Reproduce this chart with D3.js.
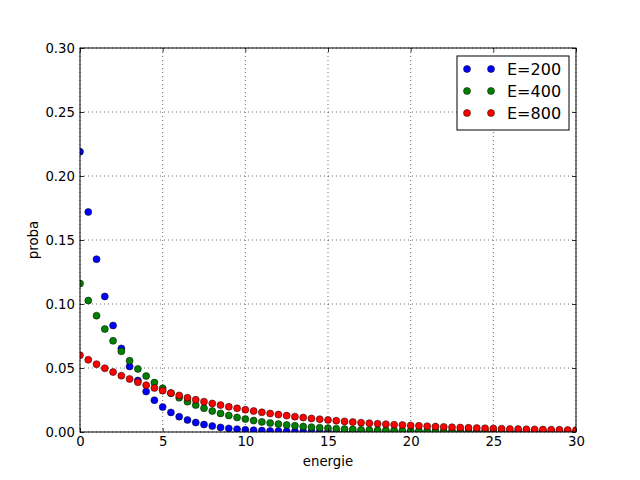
<!DOCTYPE html>
<html><head><meta charset="utf-8">
<script src="https://cdn.jsdelivr.net/npm/d3@7"></script>
<style>body{margin:0;background:#fff}svg{display:block}text{font-family:"DejaVu Sans",sans-serif}</style>
</head><body><svg id="c" width="640" height="480"></svg>
<script>
const energies = d3.range(0, 30.001, 0.5);
const probaE200 = [0.2190,0.1719,0.1350,0.1059,0.0832,0.0653,0.0512,0.0402,0.0316,0.0248,0.0195,0.0153,0.0120,0.0094,0.0074,0.0058,0.0046,0.0036,0.0028,0.0022,0.0017,0.0014,0.0011,0.0008,0.0007,0.0005,0.0004,0.0003,0.0003,0.0002,0.0002,0.0001,0.0001,0.0001,0.0001,0.0001,0.0001,0.0000,0.0000,0.0000,0.0000,0.0000,0.0000,0.0000,0.0000,0.0000,0.0000,0.0000,0.0000,0.0000,0.0000,0.0000,0.0000,0.0000,0.0000,0.0000,0.0000,0.0000,0.0000,0.0000,0.0000];
const probaE400 = [0.1160,0.1027,0.0909,0.0804,0.0712,0.0630,0.0557,0.0493,0.0437,0.0386,0.0342,0.0303,0.0268,0.0237,0.0210,0.0186,0.0164,0.0145,0.0129,0.0114,0.0101,0.0089,0.0079,0.0070,0.0062,0.0055,0.0049,0.0043,0.0038,0.0034,0.0030,0.0026,0.0023,0.0021,0.0018,0.0016,0.0014,0.0013,0.0011,0.0010,0.0009,0.0008,0.0007,0.0006,0.0005,0.0005,0.0004,0.0004,0.0003,0.0003,0.0003,0.0002,0.0002,0.0002,0.0002,0.0001,0.0001,0.0001,0.0001,0.0001,0.0001];
const probaE800 = [0.0600,0.0564,0.0530,0.0498,0.0468,0.0440,0.0414,0.0389,0.0366,0.0344,0.0323,0.0304,0.0286,0.0268,0.0252,0.0237,0.0223,0.0210,0.0197,0.0185,0.0174,0.0164,0.0154,0.0145,0.0136,0.0128,0.0120,0.0113,0.0106,0.0100,0.0094,0.0088,0.0083,0.0078,0.0073,0.0069,0.0065,0.0061,0.0057,0.0054,0.0051,0.0048,0.0045,0.0042,0.0040,0.0037,0.0035,0.0033,0.0031,0.0029,0.0027,0.0026,0.0024,0.0023,0.0021,0.0020,0.0019,0.0018,0.0017,0.0016,0.0015];
const seriesNames = ["E=200","E=400","E=800"];
const seriesColors = ["#0000ff","#008000","#ff0000"];
const xTicks = [0,5,10,15,20,25,30];
const yTicks = [0,0.05,0.10,0.15,0.20,0.25,0.30];

const svg = d3.select("#c");
const L=80,R=576,T=48,B=432;
const x = d3.scaleLinear().domain([0,30]).range([L,R]);
const y = d3.scaleLinear().domain([0,0.30]).range([B,T]);

// grid
const g = svg.append("g");
g.selectAll("line.gx").data(xTicks).join("line").attr("x1",d=>x(d)).attr("x2",d=>x(d)).attr("y1",T).attr("y2",B)
 .attr("stroke","#000").attr("stroke-width",0.6).attr("stroke-dasharray","1,3");
g.selectAll("line.gy").data(yTicks).join("line").attr("y1",d=>y(d)).attr("y2",d=>y(d)).attr("x1",L).attr("x2",R)
 .attr("stroke","#000").attr("stroke-width",0.6).attr("stroke-dasharray","1,3");

svg.append("clipPath").attr("id","clip").append("rect").attr("x",L).attr("y",T).attr("width",R-L).attr("height",B-T);

const all=[probaE200,probaE400,probaE800];
const pts = svg.append("g").attr("clip-path","url(#clip)");
all.forEach((arr,i)=>{
  pts.append("g").selectAll("circle").data(arr).join("circle")
   .attr("cx",(d,j)=>x(energies[j])).attr("cy",d=>y(d)).attr("r",3.5)
   .attr("fill",seriesColors[i]).attr("stroke","#000").attr("stroke-width",0.5);
});

const ax = svg.append("g");
const axB = d3.axisBottom(x).tickValues(xTicks).tickFormat(d3.format("d")).tickSizeInner(-4).tickSizeOuter(0).tickPadding(5);
const axT = d3.axisTop(x).tickValues(xTicks).tickFormat("").tickSizeInner(-4).tickSizeOuter(0);
const axL = d3.axisLeft(y).tickValues(yTicks).tickFormat(d3.format(".2f")).tickSizeInner(-4).tickSizeOuter(0).tickPadding(5);
const axR = d3.axisRight(y).tickValues(yTicks).tickFormat("").tickSizeInner(-4).tickSizeOuter(0);
[ [axB,`translate(0,${B})`],[axT,`translate(0,${T})`],[axL,`translate(${L},0)`],[axR,`translate(${R},0)`] ].forEach(([a,t])=>{
  const gg=ax.append("g").attr("transform",t).call(a);
  gg.select(".domain").remove();
  gg.selectAll("line").attr("stroke","#000").attr("stroke-width",0.8);
  gg.selectAll("text").attr("font-size",13.3).attr("fill","#000").attr("font-family","DejaVu Sans");
});
svg.append("rect").attr("x",L).attr("y",T).attr("width",R-L).attr("height",B-T).attr("fill","none").attr("stroke","#000").attr("stroke-width",1);

svg.append("text").attr("x",(L+R)/2).attr("y",466).attr("text-anchor","middle").attr("font-size",13.3).text("energie");
svg.append("text").attr("transform",`translate(38,${(T+B)/2}) rotate(-90)`).attr("text-anchor","middle").attr("font-size",13.3).text("proba");

const lg = svg.append("g");
lg.append("rect").attr("x",457).attr("y",56).attr("width",112).attr("height",74).attr("fill","#fff").attr("stroke","#000").attr("stroke-width",1);
seriesNames.forEach((n,i)=>{
  const yy=69+i*22;
  [467,491].forEach(xx=>lg.append("circle").attr("cx",xx).attr("cy",yy).attr("r",3.5).attr("fill",seriesColors[i]).attr("stroke","#000").attr("stroke-width",0.5));
  lg.append("text").attr("x",507).attr("y",yy).attr("dy","0.36em").attr("font-size",16).text(n);
});
</script></body></html>
